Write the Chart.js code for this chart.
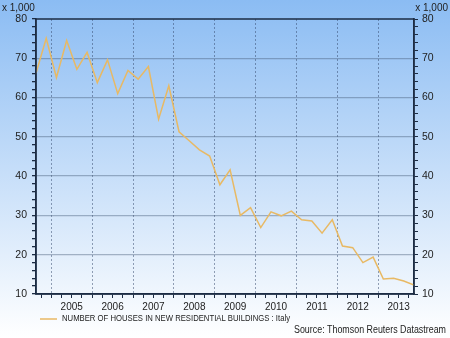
<!DOCTYPE html>
<html>
<head>
<meta charset="utf-8">
<script src="https://cdn.jsdelivr.net/npm/chart.js@4.4.1/dist/chart.umd.min.js"></script>
<style>
  html, body { margin: 0; padding: 0; }
  body { width: 450px; height: 338px; background: linear-gradient(#8bbcf3, #ffffff); }
  canvas { display: block; }
</style>
</head>
<body>
<canvas id="chart" width="450" height="338"></canvas>
<script>
// quarterly, Q3 2004 .. Q4 2013
const quarters = [
    '2004 Q3', '2004 Q4',
    '2005 Q1', '2005 Q2', '2005 Q3', '2005 Q4',
    '2006 Q1', '2006 Q2', '2006 Q3', '2006 Q4',
    '2007 Q1', '2007 Q2', '2007 Q3', '2007 Q4',
    '2008 Q1', '2008 Q2', '2008 Q3', '2008 Q4',
    '2009 Q1', '2009 Q2', '2009 Q3', '2009 Q4',
    '2010 Q1', '2010 Q2', '2010 Q3', '2010 Q4',
    '2011 Q1', '2011 Q2', '2011 Q3', '2011 Q4',
    '2012 Q1', '2012 Q2', '2012 Q3', '2012 Q4',
    '2013 Q1', '2013 Q2', '2013 Q3', '2013 Q4',
];
// thousands of houses
const houses = [
    66.2, 75.1,
    65.1, 74.5, 67.2, 71.5,
    63.8, 69.6, 61.0, 66.9,
    64.7, 67.9, 54.5, 63.0,
    51.3, 49.0, 46.7, 45.1,
    37.8, 41.6, 30.0, 32.0,
    26.9, 30.9, 29.9, 31.1,
    28.9, 28.6, 25.5, 28.9,
    22.2, 21.8, 18.0, 19.4,
    13.8, 14.0, 13.3, 12.3,
];
const yearTicks = [2005, 2006, 2007, 2008, 2009, 2010, 2011, 2012, 2013];
const seriesName = 'NUMBER OF HOUSES IN NEW RESIDENTIAL BUILDINGS : Italy';
const sourceText = 'Source: Thomson Reuters Datastream';
const unitText = 'x 1,000';

const lineColor = '#e8b964';
const axisColor = '#1c2c44';
const gridColor = 'rgba(70,90,120,0.42)';
const font = "'Liberation Sans', Arial, sans-serif";

// quarter label -> position on a decimal year axis (middle of the quarter)
function quarterToX(q) {
    const year = parseInt(q.slice(0, 4));
    const n = parseInt(q.slice(-1));
    return year + (n - 1) / 4 + 0.125;
}

const points = quarters.map((q, i) => ({ x: quarterToX(q), y: houses[i] }));

const extras = {
    id: 'extras',
    afterDraw(chart) {
        const ctx = chart.ctx;
        const a = chart.chartArea;
        ctx.save();
        // frame
        ctx.strokeStyle = axisColor;
        ctx.lineWidth = 1.5;
        ctx.setLineDash([]);
        ctx.strokeRect(a.left, a.top, a.right - a.left, a.bottom - a.top);

        ctx.fillStyle = '#222';
        ctx.textBaseline = 'middle';
        ctx.font = '10px ' + font;
        ctx.textAlign = 'left';
        ctx.fillText(unitText, 2, 8);
        ctx.textAlign = 'right';
        ctx.fillText(unitText, 448, 8);

        // legend
        ctx.strokeStyle = lineColor;
        ctx.lineWidth = 1.5;
        ctx.beginPath();
        ctx.moveTo(40, 319);
        ctx.lineTo(57, 319);
        ctx.stroke();
        ctx.textAlign = 'left';
        ctx.font = '9px ' + font;
        ctx.fillText(seriesName, 62, 319, 228);

        ctx.textAlign = 'right';
        ctx.font = '10px ' + font;
        ctx.fillText(sourceText, 446, 330, 152);
        ctx.restore();
    },
};

new Chart(document.getElementById('chart').getContext('2d'), {
    type: 'line',
    data: {
        datasets: [
            {
                label: seriesName,
                data: points,
                borderColor: lineColor,
                borderWidth: 1.5,
                pointRadius: 0,
                tension: 0,
            },
        ],
    },
    options: {
        responsive: false,
        animation: false,
        layout: { padding: { top: 19, left: 0, right: 0, bottom: 0 } },
        plugins: { legend: { display: false }, tooltip: { enabled: false } },
        scales: {
            x: {
                type: 'linear',
                position: 'bottom',
                min: quarterToX(quarters[0]),
                max: quarterToX(quarters[quarters.length - 1]),
                afterBuildTicks: (scale) => {
                    const t = [];
                    for (let i = 2004 * 4 + 3; i <= 2013 * 4 + 3; i++) t.push({ value: i / 4 });
                    scale.ticks = t;
                },
                afterFit: (scale) => { scale.height = 44; },
                grid: {
                    color: (c) => (yearTicks.includes(c.tick.value) ? 'rgba(50,70,105,0.5)' : 'rgba(0,0,0,0)'),
                    tickColor: axisColor,
                    tickLength: 4,
                    lineWidth: 1,
                },
                border: { color: axisColor, width: 1.5, dash: [2, 2] },
                ticks: {
                    autoSkip: false,
                    maxRotation: 0,
                    padding: 3,
                    labelOffset: 20.4,
                    color: '#222',
                    font: { family: font, size: 10 },
                    callback: (v) => (yearTicks.includes(v) ? String(v) : ''),
                },
            },
            y: {
                position: 'left',
                min: 10,
                max: 80,
                afterFit: (scale) => { scale.width = 36; },
                grid: {
                    color: (c) => (c.tick.value % 10 === 0 && c.tick.value > 10 && c.tick.value < 80 ? gridColor : 'rgba(0,0,0,0)'),
                    tickColor: axisColor,
                    tickLength: 4,
                    lineWidth: 1.3,
                },
                border: { color: axisColor, width: 1.5 },
                ticks: {
                    stepSize: 2,
                    autoSkip: false,
                    padding: 5,
                    color: '#222',
                    font: { family: font, size: 10.5 },
                    callback: (v) => (v % 10 === 0 ? v : ''),
                },
            },
            y2: {
                position: 'right',
                min: 10,
                max: 80,
                afterFit: (scale) => { scale.width = 36; },
                grid: { drawOnChartArea: false, tickColor: axisColor, tickLength: 4 },
                border: { color: axisColor, width: 1.5 },
                ticks: {
                    stepSize: 2,
                    autoSkip: false,
                    padding: 4,
                    color: '#222',
                    font: { family: font, size: 10.5 },
                    callback: (v) => (v % 10 === 0 ? v : ''),
                },
            },
        },
    },
    plugins: [extras],
});
</script>
</body>
</html>
